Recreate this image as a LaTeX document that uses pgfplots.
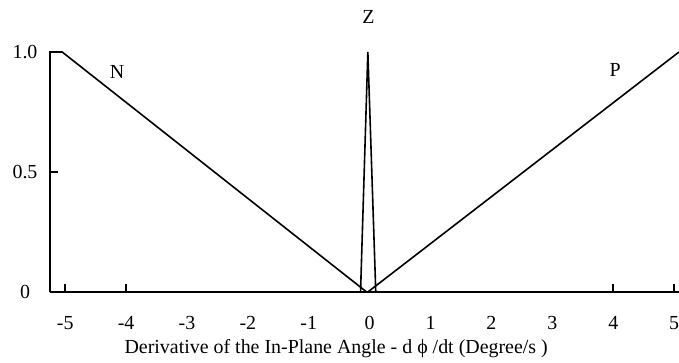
\documentclass[border=0pt]{standalone}
\usepackage{pgfplots}
\pgfplotsset{compat=1.18}
\usepackage{fontspec}
\setmainfont{Liberation Serif}

\begin{document}
\begin{tikzpicture}
\begin{axis}[
  name=ax,
  scale only axis,
  width=629bp, height=240bp,
  xmin=-5.25, xmax=5.08,
  ymin=0, ymax=1,
  clip=false,
  axis x line=bottom, axis y line=left,
  axis line style={line width=2bp, -},
  font=\fontsize{20}{23}\selectfont,
  tick style={line width=1.5bp, black},
  major tick length=8bp,
  tick align=inside,
  xtick={-5,-4,4,5},
  xticklabels={-5,-4,4,5},
  extra x ticks={-3,-2,-1,0,1,2,3},
  extra x tick labels={-3,-2,-1,0,1,2,3},
  extra x tick style={major tick length=0pt},
  ytick={0,0.5,1},
  yticklabels={0,0.5,1.0},
  xticklabel style={anchor=center, yshift=-31bp},
  yticklabel style={anchor=center, xshift=-25bp},
  xlabel={Derivative of the In-Plane Angle - d ϕ /dt (Degree/s )},
  xlabel style={at={(rel axis cs:0.455,0)}, anchor=center, yshift=-57bp},
]
% membership functions: negative, zero, positive
\addplot[black, line width=1.6bp] coordinates {(-5.25,0) (-5.25,1) (-5.05,1) (-0.05,0)};
\addplot[black, line width=1.6bp] coordinates {(-0.15,0) (-0.03,1) (0.1,0)};
\addplot[black, line width=1.6bp] coordinates {(-0.03,0) (5.08,1)};
\node at (axis cs:-4.15,0.917) {N};
\node at (axis cs:-0.02,1.146) {Z};
\node at (axis cs:4.03,0.925) {P};
\end{axis}
\pgfresetboundingbox
\path[use as bounding box] (ax.south west) ++(-50bp,-71bp) rectangle ++(679bp,363bp);
\end{tikzpicture}
\end{document}
